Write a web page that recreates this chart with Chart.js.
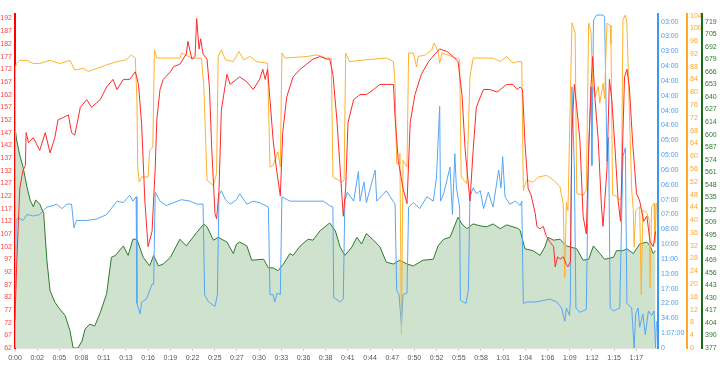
<!DOCTYPE html>
<html><head><meta charset="utf-8">
<script src="https://cdn.jsdelivr.net/npm/chart.js@4.4.1/dist/chart.umd.min.js"></script>
<style>html,body{margin:0;padding:0;background:#fff}#wrap{width:720px;height:371px}</style>
</head><body><div id="wrap"><canvas id="c" width="720" height="371"></canvas></div>
<script>
// ---- tick labels ----
const xTickLabels = ['0:00','0:02','0:05','0:08','0:11','0:13','0:16','0:19','0:22','0:25','0:27','0:30','0:33','0:36','0:38','0:41','0:44','0:47','0:50','0:52','0:55','0:58','1:01','1:04','1:06','1:09','1:12','1:15','1:17'];
const xTickStep = 2.785; // minutes between labelled ticks
const hrTicks = [62,67,72,77,82,87,92,97,102,107,112,117,122,127,132,137,142,147,152,157,162,167,172,177,182,187,192];
const cadTicks = [0,4,8,12,16,20,24,28,32,36,40,44,48,52,56,60,64,68,72,76,80,84,88,92,96,100,104];
const paceTickLabels = ['0','1:07:00','34:00','22:00','17:00','13:00','11:00','10:00','08:00','07:00','07:00','06:00','06:00','05:00','05:00','04:00','04:00','04:00','04:00','04:00','03:00','03:00','03:00'];
const powerTickLabels = ['377','390','404','417','430','443','456','469','482','495','509','522','535','548','561','574','587','600','614','627','640','653','666','679','692','705','719'];
const powerTickStep = 13.154;

// ---- heart rate (red, left axis) ----
const hrTime = [0,0.2,0.6,1.0,1.3,1.4,1.7,2.3,3.1,3.8,
4.4,5.0,5.4,6.1,6.7,7.1,7.5,8.2,9.0,9.6,
10.7,11.5,12.3,12.8,13.6,14.4,15.1,15.5,15.9,16.3,
16.7,17.2,17.6,17.8,18.2,18.6,19.5,19.9,20.7,21.5,
21.7,22.2,22.6,22.8,23.1,23.3,23.6,24.1,24.4,24.7,
25.1,25.3,25.6,25.9,26.2,26.6,27.0,27.8,28.2,29.1,
29.9,30.7,31.1,31.4,31.7,32.0,32.4,32.8,33.3,33.6,
34.1,34.9,35.8,36.6,37.4,38.3,39.1,39.5,39.9,40.4,
40.8,41.2,41.5,41.8,42.5,43.3,44.1,45.0,45.8,46.6,
47.5,47.7,48.1,48.7,49.2,49.6,50.2,51.0,51.9,52.7,
53.3,54.2,55.0,55.6,56.1,56.5,57.1,57.5,57.9,58.4,
58.8,59.6,60.5,60.9,61.7,62.5,63.0,63.4,63.7,64.0,
64.4,64.8,65.3,65.5,65.9,66.3,66.7,67.1,67.6,67.8,
68.1,68.4,68.8,69.2,69.4,69.7,69.9,70.2,70.5,70.9,
71.3,71.7,72.0,72.3,72.5,72.8,73.2,73.6,73.8,74.3,
74.6,74.9,75.3,75.7,76.0,76.3,76.5,76.8,77.1,77.5,
78.0,78.4,78.9,79.3,79.7,80.1,80.4];
const hrValues = [73,94,125,132,134,147,143,145,140,147,
139,145,152,153,154,147,146,157,160,157,
160,165,168,164,168,168,171,166,150,120,
102,108,133,152,164,168,171,173,174,178,
183,176,177,192,180,184,178,176,165,140,
115,113,124,156,162,170,166,168,169,167,
164,168,172,168,172,160,144,133,122,147,
161,169,172,174,176,177,176,176,170,152,
133,114,125,151,160,162,162,164,166,166,
166,153,136,125,119,151,162,170,175,178,
180,179,177,175,162,140,120,140,157,161,
164,164,163,164,166,166,164,165,164,143,
125,122,115,110,109,110,106,104,102,94,
98,97,98,95,94,96,147,166,157,144,
114,107,140,166,177,160,144,118,110,133,
168,160,141,120,112,147,169,172,165,144,
123,120,112,114,104,102,108];

// ---- cadence (orange) ----
const cadTime = [0,0.06,0.2,0.6,1.5,2.3,3.1,4.4,5.6,6.9,
7.5,8.6,9.2,10.3,11.5,12.8,14.0,14.6,15.1,15.3,
15.4,15.6,15.9,16.7,16.9,17.3,17.5,17.8,19.0,20.7,
20.9,22.2,23.4,23.7,24.1,24.9,25.3,25.5,25.9,26.4,
27.4,28.1,28.7,29.5,30.3,31.7,32.0,32.4,33.0,33.3,
33.5,33.9,36.6,37.9,39.1,39.7,39.9,40.6,41.0,41.3,
41.5,42.0,44.1,46.6,47.5,47.7,47.9,48.2,48.3,48.5,
48.7,49.2,49.4,50.0,50.4,50.6,51.5,52.3,52.6,53.1,
53.3,53.6,55.4,55.8,56.0,56.7,57.1,57.5,58.4,60.0,
60.9,61.7,62.5,63.0,63.6,63.8,64.2,65.0,65.7,66.7,
67.6,68.4,68.8,69.0,69.2,69.4,69.9,70.3,70.5,71.3,
71.7,72.0,72.3,72.5,72.8,73.2,73.4,73.8,74.0,74.2,
74.3,74.7,74.8,75.0,75.5,75.9,76.1,76.3,76.6,76.8,
77.1,77.4,77.6,77.7,77.9,78.4,78.6,78.8,79.3,79.6,
79.7,79.9,80.2,80.3,80.5];
const cadValues = [0,88,89,90,90,89,89,90,89,90,
87,87.5,86.5,87.5,88.6,89.6,90.2,91.7,90.7,77.6,
56.6,51.9,53.5,53.5,61.9,62.9,93.3,90.7,90.7,90.7,
92.3,90.7,90.7,81.8,52.5,50.9,54.6,91.2,93.3,90.2,
89.6,92.8,90.2,91.2,89.6,89.1,56.6,57.2,61.4,56.6,
92.3,90.7,91.2,91.7,90.7,90.7,53.5,52.5,51.9,52.5,
92.3,89.6,90.2,90.7,89.6,82.8,57.7,57.7,60.9,4.3,
58.7,56.6,92.3,92.3,88,91.2,91.7,93.3,95.4,92.8,
89.1,92.3,90.7,90.2,53.5,51.4,84.9,90.7,90.7,90.7,
89.6,91.2,89.1,89.6,89.6,49.3,52.5,51.9,53.5,54,
52.5,50.4,45.1,22.1,45.6,43,101.7,98.6,48.3,47.8,
49.3,101.7,98.6,82.3,78.6,81.8,76.6,82.8,78,95,
101.6,101,95,48,47.4,46.3,47.4,102.7,104.2,101.6,
74.5,49.5,43.2,31.5,43,44.2,16.6,43.2,42.2,40,
18.9,44.2,45.3,32.8,45.3];

// ---- speed (blue, labelled as pace) ----
const speedTime = [0,0.13,0.4,1.0,1.5,2.3,3.1,3.6,4.0,4.8,
5.2,5.9,6.5,7.1,7.4,7.7,9.0,10.3,11.5,12.8,
13.6,14.4,14.8,15.2,15.3,15.7,15.9,16.5,17.2,17.4,
17.6,18.2,19.0,19.9,20.9,22.0,22.8,23.6,23.8,24.3,
25.1,25.4,25.6,25.9,26.4,27.0,27.8,28.2,29.1,29.9,
30.7,31.8,32.0,32.4,32.6,32.9,33.3,33.5,34.5,36.2,
37.4,38.7,39.5,39.9,40.0,40.8,41.2,41.4,41.7,42.5,
43.1,43.3,43.8,44.1,45.2,45.4,46.6,47.7,47.9,48.2,
48.5,48.7,49.2,49.4,50.0,50.8,51.7,52.5,52.9,53.3,
53.4,53.8,54.6,54.9,55.2,55.4,55.8,55.9,56.3,56.6,
56.9,57.1,57.5,57.9,58.4,58.8,59.4,60.0,60.7,61.0,
61.2,61.5,62.1,62.8,63.4,63.6,63.8,64.2,65.3,66.3,
67.1,68.0,68.6,69.0,69.2,69.6,69.7,69.9,70.2,70.4,
70.9,71.3,71.7,72.0,72.3,72.4,72.6,73.0,73.8,74.0,
74.3,74.5,74.7,75.1,75.5,75.9,76.3,76.6,76.8,77.4,
77.7,77.9,78.2,78.4,78.8,79.1,79.5,79.9,80.2,80.4,
80.5];
const speedValues = [0,8.6,8.8,8.6,9.0,8.9,9.0,9.3,9.5,9.6,
9.7,9.4,9.7,9.7,8.1,8.6,8.6,8.7,9.0,9.9,
9.8,10.3,9.9,10.2,3.0,2.3,3.1,3.3,4.3,4.3,
10.5,9.9,9.6,9.8,10.0,9.9,9.7,9.7,3.6,3.1,
2.8,3.6,10.3,10.6,10.0,9.7,10.0,10.4,9.7,9.9,
9.8,9.5,3.6,3.6,3.1,3.7,3.6,10.2,9.9,9.9,
9.9,9.9,9.6,9.5,3.4,3.1,3.3,9.9,10.5,9.9,
11.9,9.9,11.2,9.8,12.0,9.9,10.6,9.7,3.9,3.6,
1.5,3.6,3.7,9.5,9.8,9.4,10.2,9.9,11.5,16.3,
9.9,10.4,12.2,9.0,13.1,10.8,9.5,3.2,3.1,3.0,
3.9,10.2,10.8,10.4,10.6,9.4,10.5,9.5,12.0,10.8,
12.9,10.2,9.7,9.9,9.6,9.9,3.0,3.1,3.1,3.2,
3.3,3.1,2.7,1.8,2.7,2.2,3.2,17.6,12.2,2.7,
2.4,2.5,2.6,13.5,17.6,12.3,22.1,22.45,22.45,22.3,
12.6,14.2,2.7,2.5,2.6,2.7,12.9,13.5,3.0,2.7,
0.0,2.3,2.7,1.4,2.3,0.9,2.5,2.2,2.5,0.0,
1.8];

// ---- power (green, filled) ----
const powerTime = [0,0.2,0.6,1.0,1.5,1.9,2.3,2.6,3.1,3.6,
4.0,4.4,5.0,5.6,6.3,6.9,7.3,7.9,8.4,8.8,
9.4,10.0,10.7,11.5,12.1,12.6,13.6,14.2,14.8,15.3,
16.1,16.9,17.4,18.0,18.6,19.5,20.7,21.5,22.8,23.7,
24.1,24.9,25.5,26.6,27.4,27.8,28.2,29.1,29.7,31.2,
31.8,32.4,33.0,33.7,34.5,34.9,35.8,36.8,37.4,38.3,
39.5,40.2,40.8,41.4,42.3,42.9,43.5,44.1,45.0,45.8,
46.6,47.5,48.3,49.2,50.0,51.2,52.5,53.1,53.8,54.6,
55.6,56.1,56.7,57.5,58.4,59.2,60.0,60.9,61.7,62.5,
63.2,63.4,64.0,65.0,65.9,66.5,66.9,67.6,68.4,69.2,
70.5,71.3,72.0,72.6,73.4,74.0,75.1,75.5,76.3,76.8,
77.6,78.4,79.3,79.7,80.1,80.4];
const powerValues = [609,595,579,567,546,532,525,532,528,518,
469,437,425,418,411,395,377,377,384,397,
402,400,414,434,472,474,484,474,491,491,
472,463,474,463,465,472,491,484,498,507,
504,490,493,488,476,486,488,484,469,470,
461,461,458,465,476,474,484,491,490,500,
508,500,483,474,483,493,486,497,490,483,
467,465,469,465,463,469,470,484,491,493,
514,507,502,507,505,504,507,502,506,504,
502,500,481,479,474,483,493,490,491,484,
481,469,470,484,476,470,472,479,479,481,
476,486,488,484,476,479];

function pts(t, v) { const n = Math.min(t.length, v.length); const o = []; for (let i = 0; i < n; i++) o.push({x: t[i], y: v[i]}); return o; }

const font = {family: '"Liberation Sans", Arial, sans-serif', size: 7};
const noGrid = {display: false, drawTicks: false};

new Chart(document.getElementById('c'), {
  type: 'line',
  data: {
    datasets: [
      {label: 'HR', data: pts(hrTime, hrValues), yAxisID: 'yHr', borderColor: '#ff2a2a', borderWidth: 1, pointRadius: 0, fill: false, order: 1},
      {label: 'Cadence', data: pts(cadTime, cadValues), yAxisID: 'yCad', borderColor: '#ffb22e', borderWidth: 1, pointRadius: 0, fill: false, order: 2},
      {label: 'Pace', data: pts(speedTime, speedValues), yAxisID: 'yPace', borderColor: '#55a6f6', borderWidth: 1, pointRadius: 0, fill: false, order: 3},
      {label: 'Power', data: pts(powerTime, powerValues), yAxisID: 'yPow', borderColor: '#2e7a2e', borderWidth: 1, pointRadius: 0, fill: 'start', backgroundColor: 'rgba(60,140,60,0.25)', order: 4}
    ]
  },
  options: {
    responsive: false, animation: false,
    layout: {padding: {top: 14, left: 0, right: 0, bottom: 0}},
    plugins: {legend: {display: false}, tooltip: {enabled: false}},
    elements: {line: {tension: 0}},
    scales: {
      x: {
        type: 'linear', min: 0, max: 80.7,
        afterBuildTicks: s => { s.ticks = xTickLabels.map((l, i) => ({value: i * xTickStep})); },
        ticks: {autoSkip: false, maxRotation: 0, color: '#555', font, padding: 3, callback: (v, i) => xTickLabels[i]},
        grid: {display: true, drawOnChartArea: false, drawTicks: true, tickLength: 3, color: '#d0d0d0'},
        border: {display: true, color: '#e0e0e0', width: 1},
        afterFit: s => { s.height = 23; }
      },
      yHr: {
        type: 'linear', position: 'left', min: 62, max: 193.8,
        afterBuildTicks: s => { s.ticks = hrTicks.map(v => ({value: v})); },
        ticks: {autoSkip: false, color: '#ff4444', font, padding: 3},
        grid: noGrid, border: {display: true, color: '#ff0000', width: 2},
        afterFit: s => { s.width = 15; }
      },
      yPace: {
        type: 'linear', position: 'right', min: 0, max: 22.52,
        afterBuildTicks: s => { s.ticks = paceTickLabels.map((l, i) => ({value: i})); },
        ticks: {autoSkip: false, color: '#4a9ff5', font, padding: 3, callback: (v, i) => paceTickLabels[i]},
        grid: noGrid, border: {display: true, color: '#3d96f2', width: 2},
        afterFit: s => { s.width = 29; }
      },
      yCad: {
        type: 'linear', position: 'right', min: 0, max: 104.5,
        afterBuildTicks: s => { s.ticks = cadTicks.map(v => ({value: v})); },
        ticks: {autoSkip: false, color: '#ffa726', font, padding: 3},
        grid: noGrid, border: {display: true, color: '#ffa726', width: 2},
        afterFit: s => { s.width = 15; }
      },
      yPow: {
        type: 'linear', position: 'right', min: 377, max: 727,
        afterBuildTicks: s => { s.ticks = powerTickLabels.map((l, i) => ({value: 377 + i * powerTickStep})); },
        ticks: {autoSkip: false, color: '#2e7a2e', font, padding: 3, callback: (v, i) => powerTickLabels[i]},
        grid: noGrid, border: {display: true, color: '#1a6b1a', width: 2},
        afterFit: s => { s.width = 18; }
      }
    }
  }
});
</script>
</body></html>
